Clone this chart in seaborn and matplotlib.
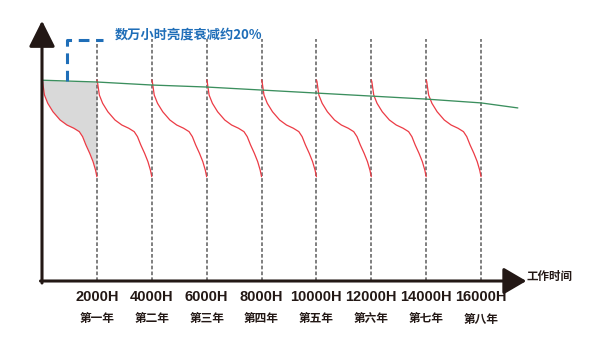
import numpy as np
import pandas as pd
import matplotlib
matplotlib.use("Agg")
import matplotlib.pyplot as plt
import seaborn as sns

# ---------------- data ----------------
hours = [2000, 4000, 6000, 8000, 10000, 12000, 14000, 16000]
hour_labels = ["2000H", "4000H", "6000H", "8000H", "10000H", "12000H", "14000H", "16000H"]
year_labels = ["第一年", "第二年", "第三年", "第四年", "第五年", "第六年", "第七年", "第八年"]

# long-term brightness (green line), % of initial
green_hours = [0, 2000, 4000, 6000, 8000, 10000, 12000, 14000, 16000, 17340]
green_bright = [99.9, 99.0, 97.5, 96.5, 95.0, 93.5, 92.0, 90.5, 88.6, 86.1]

# one decay cycle (red curves), hours inside the cycle and brightness %
cycle_hours = [0, 20, 90, 210, 400, 660, 910, 1160, 1360, 1480, 1600, 1740, 1860, 1950, 2000]
cycle_bright = [100, 99.2, 92.5, 88.4, 84.2, 80.1, 77.6, 76.0, 74.3, 71.8, 67.7, 63.5, 59.4, 55.2, 51.9]

title_text = "数万小时亮度衰减约20%"
axis_text = "工作时间"

# ---------------- style ----------------
sns.set_theme(style="white")
plt.rcParams["font.family"] = ["Noto Sans CJK SC", "DejaVu Sans"]

DARK = "#231815"
RED = "#ec3b45"
GREEN = "#3b8f5e"
BLUE = "#1f6eb8"
GRAY = "#6a6a6a"

fig = plt.figure(figsize=(6, 3.5), dpi=100)
ax = fig.add_axes([0, 0, 1, 1])
ax.set_axis_off()

# build the long table of cycles
rows = []
for i, start in enumerate([0] + hours[:-1]):
    for h, b in zip(cycle_hours, cycle_bright):
        rows.append({"cycle": i, "hours": start + h, "brightness": b})
df = pd.DataFrame(rows)

# gray fill under first cycle
first = df[df.cycle == 0]
ax.fill_between(first.hours, first.brightness,
                np.interp(first.hours, green_hours, green_bright),
                color="#d9d9d9", lw=0, zorder=1)

# dashed verticals
ax.vlines(hours, 0, 120.2, colors=GRAY, lw=1.2, linestyles=[(0, (2.2, 1.3))], zorder=2)

# red cycles
sns.lineplot(data=df, x="hours", y="brightness", units="cycle", estimator=None,
             color=RED, lw=0.9, ax=ax, zorder=3, legend=False)

# green trend
sns.lineplot(x=green_hours, y=green_bright, color=GREEN, lw=0.95, ax=ax, zorder=4)

# axes arrows
ax.annotate("", xy=(0, 129.5), xytext=(0, -1.0),
            arrowprops=dict(arrowstyle="-|>,head_length=1.6,head_width=0.8",
                            mutation_scale=10, lw=2.2, color=DARK,
                            shrinkA=0, shrinkB=0), zorder=5)
ax.annotate("", xy=(17650, 0), xytext=(-55, 0),
            arrowprops=dict(arrowstyle="-|>,head_length=1.4,head_width=0.82",
                            mutation_scale=10, lw=2.2, color=DARK,
                            shrinkA=0, shrinkB=0), zorder=5)

# blue bracket and note
ax.plot([911, 911, 2223], [99.7, 119.9, 119.9], color=BLUE, lw=2.2,
        ls=(0, (3.5, 2.2)), solid_capstyle="butt", zorder=5)
ax.text(2660, 122.6, title_text, color=BLUE, fontsize=9.5, fontweight="bold",
        ha="left", va="center")

# tick labels
for h, hl, yl in zip(hours, hour_labels, year_labels):
    ax.text(h, -8.0, hl, ha="center", va="center", fontsize=10.5, fontweight="bold",
            family=["Liberation Sans", "DejaVu Sans"], color=DARK)
    ax.text(h, -18.9, yl, ha="center", va="center", fontsize=8.4, fontweight="bold",
            color=DARK)

ax.text(17670, 2.0, axis_text, ha="left", va="center", fontsize=8.3,
        fontweight="bold", color=DARK)

ax.set_xlim(-1530.6, 20335)
ax.set_ylim(-34.33, 139.80)

fig.savefig("out.png", dpi=100, facecolor="white")
